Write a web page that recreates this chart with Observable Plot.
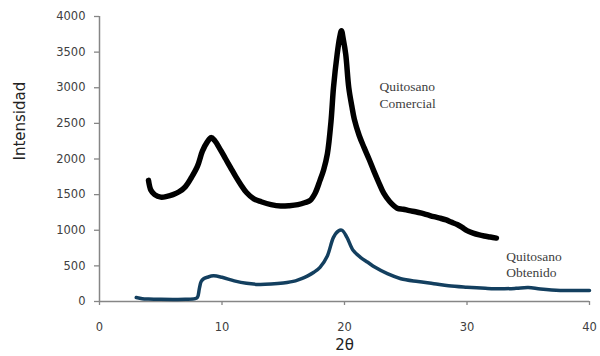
<!DOCTYPE html>
<html>
<head>
<meta charset="utf-8">
<script src="https://cdn.jsdelivr.net/npm/d3@7"></script>
<script src="https://cdn.jsdelivr.net/npm/@observablehq/plot@0.6"></script>
<style>
  html, body { margin: 0; padding: 0; background: #fff; }
  #chart svg { display: block; }
</style>
</head>
<body>
<div id="chart"></div>
<script>
// Quitosano Comercial (black)
const comercialX = [4.0, 4.2, 4.5, 5.0, 5.5, 6.0, 6.5, 7.0, 7.5, 8.0, 8.4, 8.8, 9.1, 9.4, 9.9, 10.3, 10.7, 11.1, 11.5, 12.0, 12.6, 13.2, 14.0, 14.8, 15.5, 16.2, 16.8, 17.2, 17.6, 18.0, 18.3, 18.6, 18.9, 19.1, 19.4, 19.6, 19.75, 19.9, 20.1, 20.35, 20.6, 20.8, 21.2, 21.6, 22.0, 22.4, 22.8, 23.2, 23.7, 24.3, 24.8, 25.3, 25.8, 26.3, 26.8, 27.3, 27.8, 28.3, 28.7, 29.2, 29.6, 30.0, 30.5, 31.0, 31.4, 31.9, 32.4];
const comercialY = [1700, 1560, 1500, 1465, 1475, 1500, 1540, 1610, 1740, 1900, 2110, 2240, 2300, 2260, 2120, 2000, 1880, 1760, 1650, 1530, 1440, 1400, 1360, 1340, 1345, 1360, 1390, 1420, 1520, 1700, 1850, 2070, 2530, 3000, 3470, 3700, 3800, 3680, 3470, 3000, 2740, 2560, 2330, 2160, 2000, 1830, 1670, 1520, 1400, 1310, 1295, 1275, 1260, 1240, 1215, 1190, 1170, 1145, 1115, 1080, 1040, 995, 960, 935, 920, 905, 890];

// Quitosano Obtenido (blue)
const obtenidoX = [3.0, 3.5, 4.0, 5.0, 6.0, 7.0, 7.8, 8.0, 8.15, 8.3, 8.5, 8.8, 9.3, 10.0, 11.0, 12.0, 13.0, 14.0, 15.0, 16.0, 16.5, 17.0, 17.5, 18.0, 18.6, 19.1, 19.5, 19.8, 20.2, 20.7, 21.3, 21.9, 22.5, 23.5, 24.6, 26.0, 27.3, 28.5, 30.0, 31.5, 32.7, 34.0, 35.0, 36.0, 37.6, 39.0, 40.0];
const obtenidoY = [55, 40, 35, 30, 28, 30, 40, 60, 180, 280, 320, 340, 360, 340, 290, 255, 240, 245, 260, 290, 320, 360, 410, 480, 640, 900, 990, 1000, 900, 720, 620, 550, 480, 390, 320, 280, 250, 220, 200, 185, 178, 185, 195, 175, 155, 155, 155];

const xTicks = [0, 10, 20, 30, 40];
const yTicks = [0, 500, 1000, 1500, 2000, 2500, 3000, 3500, 4000];
const xLabel = "2θ";
const yLabel = "Intensidad";
const labelComercial = ["Quitosano", "Comercial"];
const labelObtenido = ["Quitosano", "Obtenido"];

const comercial = comercialX.map((x, i) => ({x, y: comercialY[i]}));
const obtenido = obtenidoX.map((x, i) => ({x, y: obtenidoY[i]}));

const axisColor = "#868686";
const tickText = "#404040";
const serif = {textAnchor: "start", fontFamily: "Liberation Serif", fontSize: 13.5, fill: "#404040"};

const chart = Plot.plot({
  width: 600,
  height: 356,
  marginTop: 16,
  marginRight: 11,
  marginBottom: 55,
  marginLeft: 99,
  style: {fontFamily: "DejaVu Sans", background: "#fff"},
  x: {domain: [0, 40], axis: null},
  y: {domain: [0, 4000], axis: null},
  marks: [
    Plot.ruleX([0], {stroke: axisColor, strokeWidth: 1.5}),
    Plot.ruleY([0], {stroke: axisColor, strokeWidth: 1.5}),
    Plot.axisY({ticks: yTicks, tickSize: 5, tickPadding: 9, stroke: axisColor, strokeWidth: 1.3, fill: tickText, fontSize: 11.5, label: null, tickFormat: d => String(d)}),
    Plot.axisX({ticks: xTicks, tickSize: 4, tickPadding: 17, stroke: axisColor, strokeWidth: 1.3, fill: tickText, fontSize: 11.5, label: null, tickFormat: d => String(d)}),
    Plot.text([xLabel], {frameAnchor: "bottom", dy: 48, fontSize: 15, fill: "#222"}),
    Plot.text([yLabel], {frameAnchor: "left", dx: -79, dy: 1.5, rotate: -90, fontSize: 15, fill: "#222"}),
    Plot.line(obtenido, {x: "x", y: "y", stroke: "#133f5f", strokeWidth: 3.5, strokeLinejoin: "round", strokeLinecap: "round", curve: "catmull-rom"}),
    Plot.line(comercial, {x: "x", y: "y", stroke: "#000", strokeWidth: 5.5, strokeLinejoin: "round", strokeLinecap: "round", curve: "catmull-rom"}),
    Plot.text([labelComercial[0]], {x: 22.86, y: 3017, ...serif}),
    Plot.text([labelComercial[1]], {x: 22.86, y: 2779, ...serif}),
    Plot.text([labelObtenido[0]], {x: 33.2, y: 632, ...serif}),
    Plot.text([labelObtenido[1]], {x: 33.2, y: 411, ...serif})
  ]
});
document.getElementById("chart").appendChild(chart);
</script>
</body>
</html>
